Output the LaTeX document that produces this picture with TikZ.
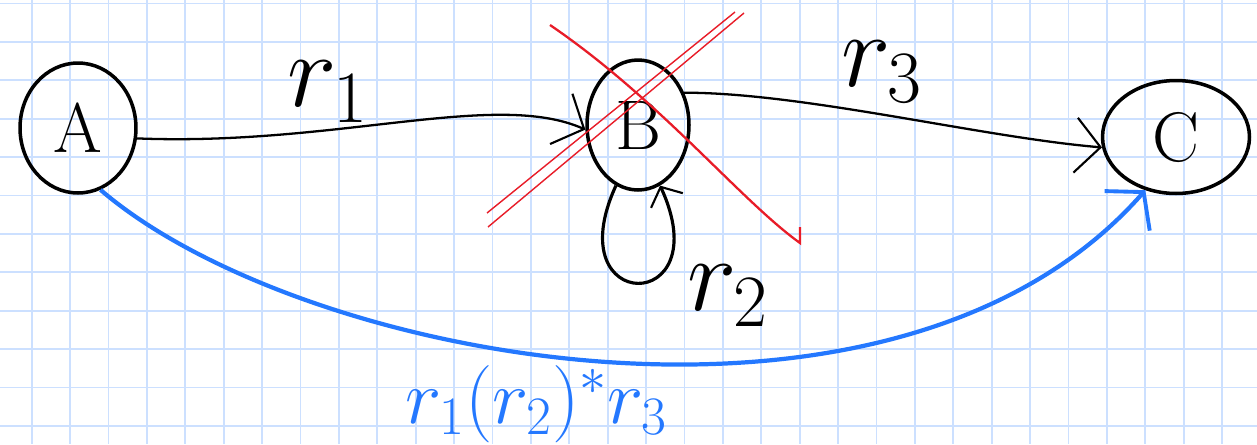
\RequirePackage{fix-cm}
\documentclass[tikz,border=0pt]{standalone}
\usepackage{graphicx}
\usetikzlibrary{arrows.meta,shapes.geometric}
\definecolor{gridblue}{RGB}{204,224,255}
\definecolor{penblue}{RGB}{36,120,255}
\definecolor{penred}{RGB}{232,28,40}

\begin{document}
\begin{tikzpicture}[
        x=0.02cm, y=-0.02cm,
        st/.style={draw, ellipse, line width=2pt, inner sep=0pt,
            font=\fontsize{40}{40}\selectfont},
        gridline/.style={gridblue, line width=1.1pt},
        line/.style={-{Straight Barb[length=5mm,width=11mm,line width=1.2pt]}, line width=1.3pt},
        loopline/.style={-{Straight Barb[length=3mm,width=7mm,line width=1.2pt]}, line width=1.8pt},
        res/.style={penblue, line width=2.4pt,
            -{Straight Barb[length=5mm,width=12mm,line width=2.2pt]}},
        strike/.style={penred, line width=0.8pt},
        lbl/.style={font=\fontsize{60}{60}\selectfont, inner sep=0pt}]
        \clip (0,0) rectangle (1257,444);
        \fill[white] (0,0) rectangle (1257,444);
        \foreach \i in {0,...,32} {\draw[gridline] ({31.7+38.4*\i},0) -- ({31.7+38.4*\i},444);}
        \foreach \j in {0,...,11} {\draw[gridline] (0,{3.5+38.4*\j}) -- (1257,{3.5+38.4*\j});}

        \node[st, minimum width=2.32cm, minimum height=2.6cm] (A) at (78,128) {A};
        \node[st, minimum width=2.04cm, minimum height=2.6cm] (B) at (638,125) {B};
        \node[st, minimum width=2.94cm, minimum height=2.26cm] (C) at (1176,137) {C};

        \draw[line] (A.-10) .. controls +(200,8) and +(-90,-40) .. (B.185);
        \draw[line] (B.35) .. controls +(120,0) and +(-120,-10) .. (C.188);
        \draw[loopline] (B.250) .. controls +(-60,130) and +(60,130) .. (B.290);

        \node[lbl] (r1) at (328,92) {$r_1$};
        \node[lbl] (r2) at (728,296) {$r_2$};
        \node[lbl] (r3) at (882,72) {$r_3$};

        \draw[strike] (487,213) -- (735,12);
        \draw[strike] (488,227) -- (744,13);
        \draw[strike, line width=1.3pt] (550,25) .. controls (660,100) and (740,200) .. (800,243) -- (800,227);

        \draw[res] (A.-70) .. controls +(200,172) and +(-250,285) .. (C.240);
        \node[lbl, penblue, anchor=base west, font=\fontsize{44}{44}\selectfont] (re) at (405,423) {$r_1(r_2)^*r_3$};
    \end{tikzpicture}
\end{document}
